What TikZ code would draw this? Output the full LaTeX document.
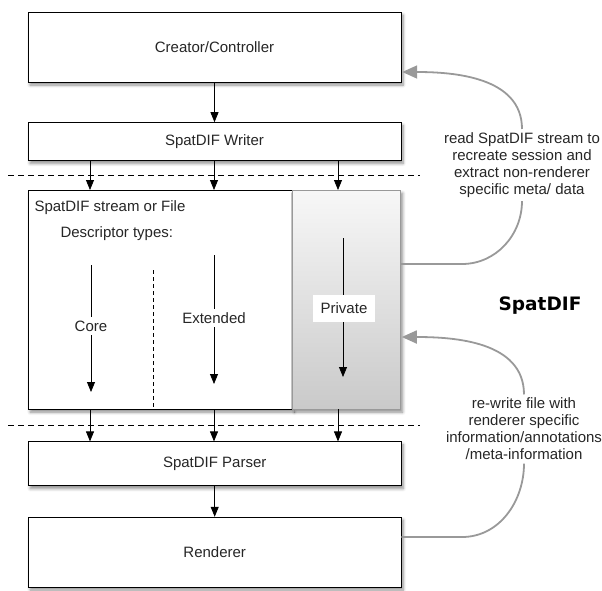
\documentclass[tikz,border=0pt]{standalone}
\usepackage{fontspec}
\setmainfont{Liberation Sans}
\newfontfamily\titlefont{DejaVu Sans}
\usetikzlibrary{positioning,arrows.meta,shadows.blur,calc}

\begin{document}
\begin{tikzpicture}[x=1pt,y=-1pt,font=\fontsize{15}{17}\selectfont,text=black!85]

\tikzstyle{softshadow}=[blur shadow={shadow xshift=2pt, shadow yshift=-3pt,
  shadow blur radius=3pt, shadow blur steps=6, shadow opacity=45}]
\tikzstyle{blockbox}=[draw, fill=white, minimum width=373pt, align=center, softshadow]
\tikzstyle{flow}=[-{Triangle[length=10pt,width=8pt]}, thick]
\tikzstyle{sepline}=[dashed, dash pattern=on 6pt off 4pt, thick]
\tikzstyle{feedback}=[draw=gray!80, line width=1.8pt]
\tikzstyle{backarrow}=[feedback, -{Triangle[length=15pt,width=13pt]}, shorten >=1pt]
\tikzstyle{note}=[align=center, font=\fontsize{15}{17}\selectfont]

\useasboundingbox (0,0) rectangle (602,590);

% NODES
% main chain
\node[blockbox, minimum height=70pt] (creator) at (214.5,47) {Creator/Controller};
\node[blockbox, minimum height=38pt, below=40pt of creator] (writer) {SpatDIF Writer};

% stream or file
\node[draw, fill=white, minimum width=264pt, minimum height=219pt, anchor=north west,
  softshadow] (stream) at (28,190) {};
\node[draw=gray!80, top color=gray!6, bottom color=gray!42, minimum width=108pt,
  minimum height=219pt, anchor=north west, softshadow] (private) at (stream.north east) {};

\node[blockbox, minimum height=44pt, below=32pt of stream.south west, anchor=north west] (parser) {SpatDIF Parser};
\node[blockbox, minimum height=70pt, below=31pt of parser] (renderer) {Renderer};

% inside the stream
\node[anchor=west] (streamtitle) at (31,208) {SpatDIF stream or File};
\node[anchor=west] (desctitle) at (57,234) {Descriptor types:};

\coordinate (core-top) at (91,265);
\coordinate (core-bot) at (91,392);
\coordinate (ext-top) at (214,255);
\coordinate (ext-bot) at (214,384);
\coordinate (priv-top) at (343,238);
\coordinate (priv-bot) at (343,377);

\draw[flow] (core-top) -- (core-bot);
\draw[flow] (ext-top) -- (ext-bot);
\draw[flow] (priv-top) -- (priv-bot);

\node[fill=white] (core) at (91,326) {Core};
\node[fill=white] (extended) at (214,318) {Extended};
\node[fill=white, inner xsep=7.5pt, inner ysep=8pt] (privlabel) at (344,308) {Private};

\draw[dashed, dash pattern=on 4pt off 3pt] (153,270) -- (153,407);

% separators
\draw[sepline] (8,175) -- (420,175);
\draw[sepline] (8,425) -- (420,425);

% side notes
\node[note] (readnote) at (522,165) {read SpatDIF stream to\\recreate session and\\extract non-renderer\\specific meta/ data};
\node[note] (rewritenote) at (524,429) {re-write file with\\renderer specific\\information/annotations\\/meta-information};
\node[font=\titlefont\bfseries\fontsize{18.5}{20}\selectfont, text=black] (spatdif) at (540,306) {SpatDIF};

% ARROWS
\draw[flow] (creator) -- (writer);
\foreach \cx in {90,214,338}{
  \draw[flow] (\cx,0 |- writer.south) -- (\cx,0 |- stream.north);
  \draw[flow] (\cx,0 |- stream.south) -- (\cx,0 |- parser.north);
}
\draw[flow] (parser) -- (renderer);

% feedback loops
\draw[feedback] (private.east |- 0,264) -- (462,264) to[out=0,in=-90] (readnote.south);
\draw[backarrow] (readnote.north) to[out=90,in=0] (creator.east |- 0,72);

\draw[feedback] (renderer.east |- 0,537) -- (462,537) to[out=0,in=-90] (rewritenote.south);
\draw[backarrow] (rewritenote.north) to[out=90,in=0] (private.east |- 0,337);

\end{tikzpicture}
\end{document}
